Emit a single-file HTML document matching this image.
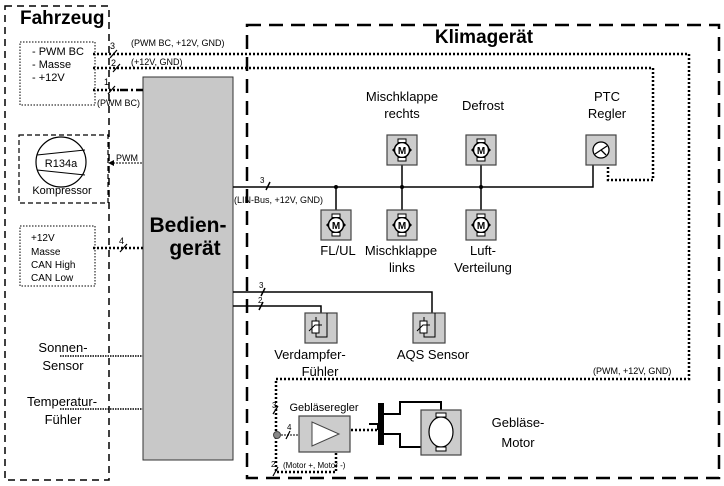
<!DOCTYPE html>
<html><head><meta charset="utf-8"><style>
html,body{margin:0;padding:0;background:#fff;}
svg{display:block;font-family:"Liberation Sans",sans-serif;}
</style></head><body>
<svg width="724" height="486" viewBox="0 0 724 486" xmlns="http://www.w3.org/2000/svg">
<defs>
<g id="mot">
<rect x="-15" y="-15" width="30" height="30" fill="#ccc" stroke="#444" stroke-width="1.2"/>
<circle cx="0" cy="0" r="7.5" fill="#fff" stroke="#000" stroke-width="1.5"/>
<rect x="-4" y="-11" width="8" height="3.5" fill="#fff" stroke="#000"/>
<rect x="-4" y="7.5" width="8" height="3.5" fill="#fff" stroke="#000"/>
<polygon points="-10,0 -7,-3 -7,3" fill="#000"/><polygon points="10,0 7,-3 7,3" fill="#000"/>
<text x="0" y="4" font-size="10" font-weight="bold" text-anchor="middle">M</text>
</g>
<g id="sens">
<rect x="-16" y="-15" width="32" height="30" fill="#ccc" stroke="#444" stroke-width="1.2"/>
<rect x="-9" y="-7" width="7" height="12" fill="#fff" stroke="#000"/>
<path d="M-12,3 L-6,-3 L1,-3" fill="none" stroke="#000"/>
<path d="M-5,-7 V-11 M-5,5 V9 H6 V-15" fill="none" stroke="#000"/>
</g>
</defs>
<!-- Outer boxes -->
<rect x="5" y="6" width="104" height="474" fill="none" stroke="#000" stroke-width="1.5" stroke-dasharray="7,5"/>
<rect x="247" y="25" width="472" height="453" fill="none" stroke="#000" stroke-width="2.5" stroke-dasharray="14,8"/>
<text x="20" y="24" font-size="19" font-weight="bold">Fahrzeug</text>
<text x="484" y="43" font-size="19" font-weight="bold" text-anchor="middle">Klimagerät</text>
<!-- Left boxes -->
<rect x="20" y="42" width="75" height="63" fill="none" stroke="#000" stroke-dasharray="1.5,1.5"/>
<text font-size="11"><tspan x="32" y="55">- PWM BC</tspan><tspan x="32" y="68">- Masse</tspan><tspan x="32" y="81">- +12V</tspan></text>
<rect x="19" y="135" width="89" height="68" fill="none" stroke="#000" stroke-width="1.2" stroke-dasharray="5,3"/>
<circle cx="61" cy="162" r="25" fill="#fff" stroke="#000" stroke-width="1.2"/>
<path d="M37,155 L85,150 M37,170 L85,175" stroke="#000"/>
<text x="61" y="167" font-size="11" text-anchor="middle">R134a</text>
<text x="62" y="194" font-size="11" text-anchor="middle">Kompressor</text>
<rect x="20" y="226" width="75" height="60" fill="none" stroke="#000" stroke-dasharray="1.5,1.5"/>
<text font-size="10"><tspan x="31" y="241">+12V</tspan><tspan x="31" y="255">Masse</tspan><tspan x="31" y="268">CAN High</tspan><tspan x="31" y="281">CAN Low</tspan></text>
<text font-size="13" text-anchor="middle"><tspan x="63" y="352">Sonnen-</tspan><tspan x="63" y="370">Sensor</tspan><tspan x="62" y="406">Temperatur-</tspan><tspan x="63" y="424">Fühler</tspan></text>
<!-- Bediengeraet -->
<rect x="143" y="77" width="90" height="383" fill="#c8c8c8" stroke="#333" stroke-width="1"/>
<text x="188" y="232" font-size="21" font-weight="bold" text-anchor="middle">Bedien-</text>
<text x="195" y="255" font-size="21" font-weight="bold" text-anchor="middle">gerät</text>
<!-- dotted lines from left -->
<g fill="none" stroke="#000" stroke-width="2.5" stroke-dasharray="2,2">
<path d="M93,54 H689 V379 H276 V472 H336 V430 H378"/>
<path d="M93,68 H653 V180 H608 V166"/>
<path d="M93,90 H120"/>
<path d="M93,248 H143"/>
</g>
<path d="M120,90 H143" stroke="#000" stroke-width="2.5" stroke-dasharray="8,3,2,3"/>
<g stroke="#000" stroke-width="1.5" stroke-dasharray="1.5,1" fill="none">
<path d="M60,356 H143 M60,409 H143"/>
</g>
<path d="M110,163 H143" stroke="#000" stroke-dasharray="2,1"/>
<polygon points="108,163 114,160 114,166" fill="#000"/>
<text x="116" y="161" font-size="9">PWM</text>
<g font-size="9">
<text x="110" y="49">3</text><text x="131" y="46">(PWM BC, +12V, GND)</text>
<text x="111" y="66">2</text><text x="131" y="65">(+12V, GND)</text>
<text x="104" y="85">1</text><text x="97" y="106">(PWM BC)</text>
<text x="119" y="244">4</text>
</g>
<g stroke="#000" stroke-width="1.2">
<path d="M110,58 L117,50 M113,72 L120,64 M108,94 L115,86 M120,252 L127,244"/>
</g>
<!-- LIN bus -->
<g stroke="#000" stroke-width="1.5" fill="none">
<path d="M233,187 H593 V164"/>
<path d="M336,187 V210 M402,187 V165 M402,187 V210 M481,187 V165 M481,187 V210"/>
<path d="M233,292 H432 V320 M233,306 H321 V318"/>
<path d="M266,190 L270,182 M261,296 L265,288 M259,310 L263,302"/>
</g>
<g fill="#000"><circle cx="336" cy="187" r="2"/><circle cx="402" cy="187" r="2"/><circle cx="481" cy="187" r="2"/></g>
<text x="260" y="183" font-size="8">3</text>
<text x="234" y="203" font-size="9">(LIN-Bus, +12V, GND)</text>
<text x="259" y="288" font-size="8">3</text><text x="258" y="303" font-size="8">2</text>
<use href="#mot" x="402" y="150"/><use href="#mot" x="481" y="150"/>
<use href="#mot" x="336" y="225"/><use href="#mot" x="402" y="225"/><use href="#mot" x="481" y="225"/>
<rect x="586" y="135" width="30" height="30" fill="#ccc" stroke="#444" stroke-width="1.2"/>
<circle cx="601" cy="150" r="8" fill="#fff" stroke="#000" stroke-width="1.3"/>
<path d="M595,154 L607,146 M601,150 L606,155" stroke="#000" stroke-width="1.3"/>
<g font-size="13" text-anchor="middle">
<text x="402" y="101">Mischklappe</text><text x="402" y="118">rechts</text>
<text x="483" y="110">Defrost</text>
<text x="607" y="101">PTC</text><text x="607" y="118">Regler</text>
<text x="338" y="255">FL/UL</text>
<text x="401" y="255">Mischklappe</text><text x="402" y="272">links</text>
<text x="483" y="255">Luft-</text><text x="483" y="272">Verteilung</text>
<text x="310" y="359">Verdampfer-</text><text x="320" y="376">Fühler</text>
<text x="433" y="359">AQS Sensor</text>
<text x="518" y="427">Gebläse-</text><text x="518" y="447">Motor</text>
</g>
<use href="#sens" x="321" y="328"/><use href="#sens" x="429" y="328"/>
<text x="593" y="374" font-size="9">(PWM, +12V, GND)</text>
<!-- Geblaese -->
<text x="324" y="411" font-size="11" text-anchor="middle">Gebläseregler</text>
<rect x="299" y="416" width="51" height="36" fill="#ccc" stroke="#444" stroke-width="1.2"/>
<polygon points="312,422 312,446 339,434" fill="#fff" stroke="#444" stroke-width="1"/>
<circle cx="277" cy="435" r="3.5" fill="#888" stroke="#444"/>
<path d="M281,435 H299" stroke="#000" stroke-dasharray="2,1"/>
<path d="M286,439 L290,431 M273,414 L278,406 M273,476 L278,467" stroke="#000" stroke-width="1.2"/>
<text x="272" y="408" font-size="8">3</text><text x="287" y="430" font-size="8">4</text><text x="271" y="467" font-size="8">2</text>
<text x="283" y="468" font-size="8">(Motor +, Motor -)</text>
<rect x="378" y="403" width="6" height="42" fill="#000"/>
<path d="M384,414 H400 V402 H441 V412 M384,434 H400 V447 H441 V455 M369,424 H378 V430" stroke="#000" stroke-width="2" fill="none"/>
<rect x="421" y="410" width="40" height="45" fill="#ccc" stroke="#444" stroke-width="1.2"/>
<ellipse cx="441" cy="432" rx="12" ry="15" fill="#fff" stroke="#000" stroke-width="1.2"/>
<rect x="436" y="413" width="10" height="4" fill="#fff" stroke="#000"/>
<rect x="436" y="447" width="10" height="4" fill="#fff" stroke="#000"/>
</svg>
</body></html>
